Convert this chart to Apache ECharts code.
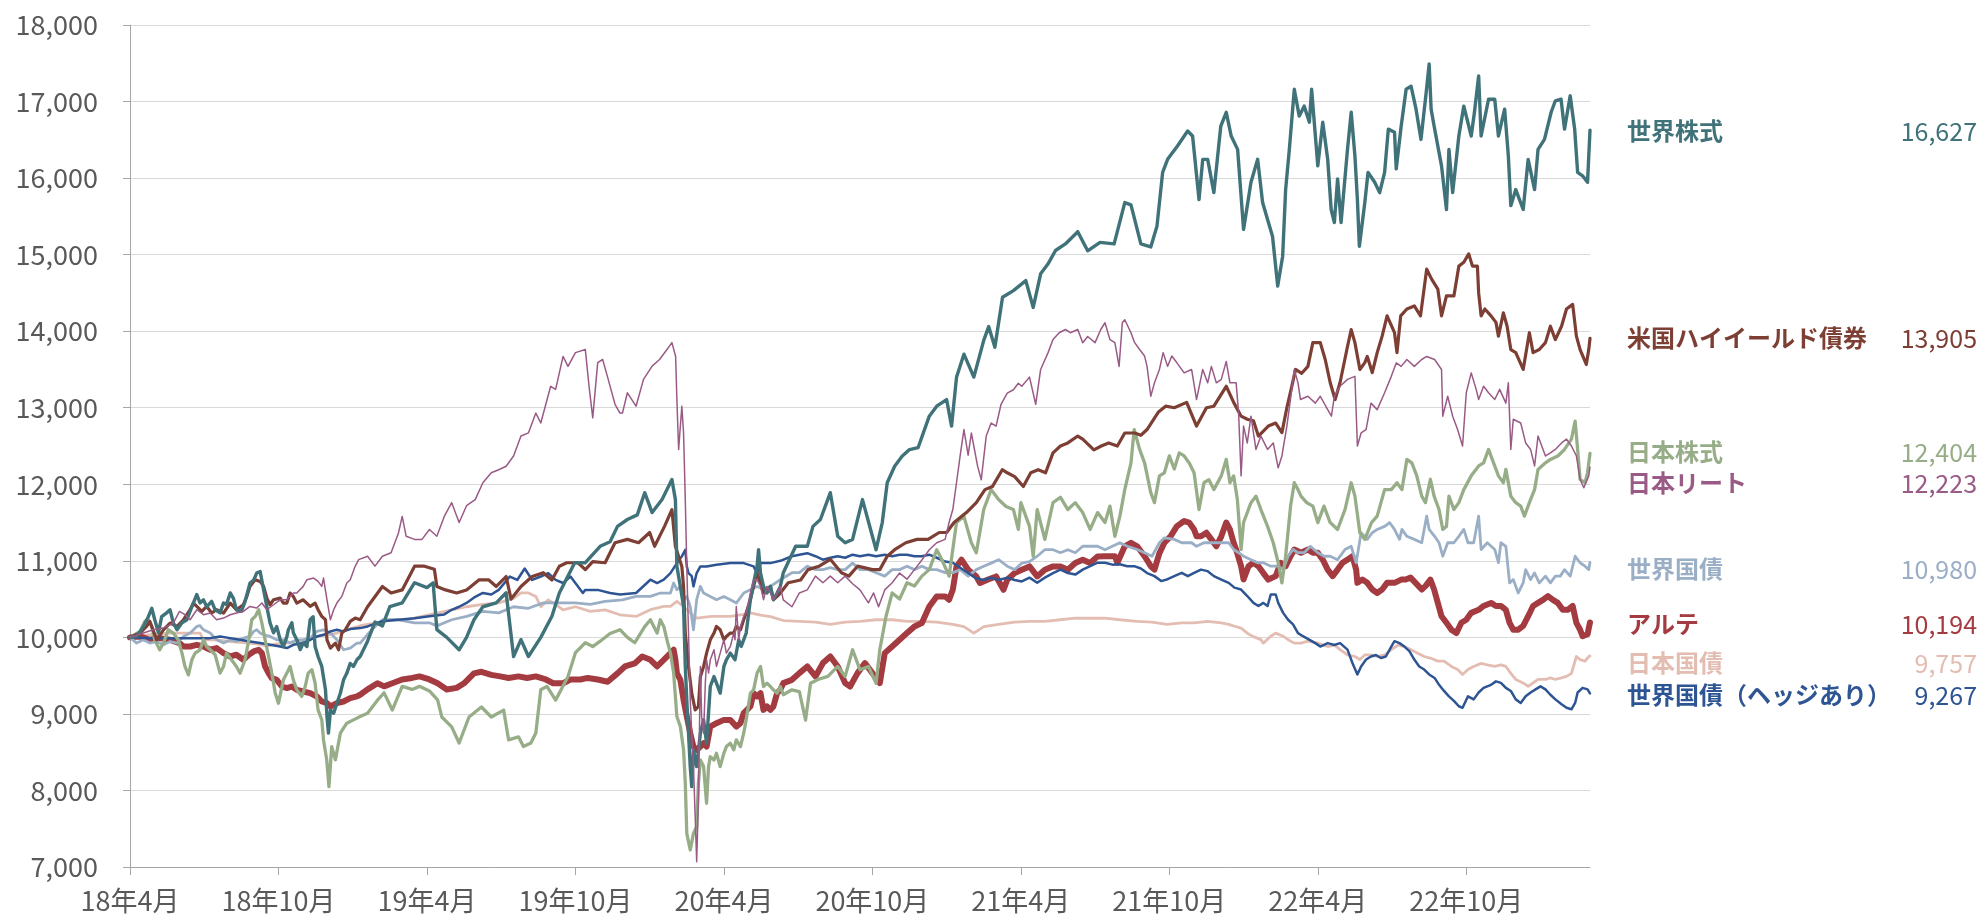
<!DOCTYPE html>
<html>
<head>
<meta charset="utf-8">
<script src="https://cdn.jsdelivr.net/npm/echarts@6/dist/echarts.min.js"></script>
<style>
html,body{margin:0;padding:0;background:#fff;}
#chart{width:1982px;height:917px;}
</style>
</head>
<body>
<div id="chart"></div>
<script>
// x = months since April 2018, y = index value (start 10,000)
const tickLabels = ['18年4月','18年10月','19年4月','19年10月','20年4月','20年10月','21年4月','21年10月','22年4月','22年10月'];
const tickMonths = [0,6,12,18,24,30,36,42,48,54];
const seriesNames = ['世界株式','米国ハイイールド債券','日本株式','日本リート','世界国債','アルテ','日本国債','世界国債（ヘッジあり）'];

const worldEquity = [[0,10000],[0.27,10010],[0.54,10140],[0.74,10270],[0.88,10380],[1.0,10230],[1.15,10060],[1.28,10270],[1.48,10320],[1.62,10360],[1.75,10190],[1.9,10100],[2.1,10190],[2.3,10230],[2.5,10400],[2.7,10560],[2.83,10450],[2.97,10490],[3.1,10400],[3.3,10470],[3.44,10360],[3.64,10320],[3.78,10450],[3.9,10430],[4.05,10580],[4.18,10510],[4.3,10360],[4.5,10340],[4.65,10470],[4.85,10710],[5.0,10750],[5.12,10840],[5.26,10860],[5.4,10620],[5.53,10400],[5.66,10190],[5.8,10060],[5.93,10140],[6.07,9970],[6.2,9880],[6.34,10010],[6.4,10100],[6.54,10190],[6.6,10060],[6.74,9970],[6.88,9840],[7.0,9925],[7.15,9880],[7.28,10230],[7.4,10270],[7.48,9880],[7.6,9750],[7.75,9620],[7.9,9315],[7.96,8966],[8.02,8750],[8.1,9050],[8.23,9010],[8.36,9140],[8.5,9270],[8.63,9445],[8.76,9530],[8.9,9660],[9.03,9620],[9.17,9707],[9.3,9750],[9.6,9950],[9.9,10200],[10.2,10150],[10.5,10400],[11.0,10450],[11.5,10714],[12.0,10650],[12.25,10714],[12.4,10100],[12.8,10000],[13.3,9838],[13.6,10000],[13.9,10230],[14.26,10400],[14.8,10450],[15.2,10583],[15.5,9750],[15.8,9970],[16.1,9750],[16.6,10000],[17.05,10275],[17.35,10580],[17.97,10975],[18.4,10975],[19.0,11190],[19.4,11250],[19.7,11450],[20.1,11540],[20.5,11600],[20.8,11890],[21.1,11630],[21.5,11800],[21.9,12061],[22.04,11799],[22.1,10927],[22.24,10666],[22.37,10404],[22.44,9620],[22.5,9184],[22.57,8748],[22.64,8312],[22.7,8050],[22.77,8530],[22.9,8312],[23.05,8748],[23.18,8922],[23.3,8617],[23.45,9358],[23.6,9489],[23.7,9402],[23.85,9271],[24.0,9620],[24.1,9707],[24.26,9794],[24.45,9707],[24.6,9968],[24.7,9881],[24.9,10056],[25.07,10492],[25.2,10710],[25.34,10927],[25.4,11145],[25.48,10840],[25.6,10666],[25.74,10579],[25.88,10666],[26.0,10492],[26.15,10579],[26.28,10666],[26.4,10845],[26.9,11190],[27.37,11190],[27.6,11450],[27.9,11540],[28.3,11890],[28.6,11320],[28.9,11236],[29.2,11280],[29.6,11800],[29.85,11500],[30.15,11145],[30.4,11500],[30.6,12020],[30.9,12235],[31.2,12365],[31.5,12453],[31.85,12480],[32.3,12890],[32.6,13020],[33.0,13107],[33.2,12760],[33.4,13397],[33.7,13700],[34.1,13400],[34.5,13880],[34.7,14060],[34.95,13790],[35.26,14444],[35.7,14530],[36.2,14660],[36.5,14310],[36.8,14750],[37.1,14880],[37.4,15054],[37.8,15140],[38.3,15300],[38.7,15050],[39.2,15160],[39.77,15140],[40.2,15680],[40.45,15650],[40.85,15140],[41.25,15100],[41.5,15370],[41.73,16075],[41.93,16245],[42.33,16420],[42.74,16615],[42.94,16550],[43.2,15720],[43.35,16245],[43.55,16245],[43.8,15810],[44.08,16680],[44.3,16860],[44.5,16550],[44.76,16375],[45.0,15330],[45.3,15945],[45.57,16245],[45.77,15680],[45.97,15460],[46.17,15240],[46.38,14590],[46.58,14980],[46.7,15850],[46.85,16375],[47.05,17160],[47.25,16810],[47.45,16940],[47.66,16730],[47.75,17160],[48.0,16160],[48.2,16730],[48.4,16245],[48.54,15590],[48.67,15420],[48.8,15990],[48.94,15420],[49.2,16375],[49.35,16860],[49.5,16290],[49.6,15720],[49.68,15110],[49.9,15680],[50.03,16075],[50.3,15945],[50.5,15810],[50.7,16075],[50.85,16640],[51.1,16600],[51.17,16120],[51.37,16680],[51.57,17160],[51.77,17200],[51.97,16900],[52.17,16505],[52.38,17120],[52.5,17490],[52.58,16900],[52.7,16680],[53.0,16160],[53.2,15590],[53.3,16375],[53.45,15810],[53.7,16550],[53.9,16940],[54.2,16550],[54.33,16860],[54.5,17335],[54.6,16550],[54.9,17030],[55.15,17030],[55.3,16550],[55.55,16900],[55.7,16290],[55.8,15640],[56.0,15850],[56.3,15590],[56.5,16245],[56.76,15850],[56.9,16375],[57.16,16505],[57.43,16860],[57.6,17010],[57.83,17030],[57.97,16640],[58.2,17075],[58.38,16640],[58.5,16075],[58.7,16030],[58.9,15945],[59,16627]];

const usHighYield = [[0,10000],[0.4,10056],[0.67,10143],[0.8,10209],[1.08,9968],[1.35,10099],[1.62,10187],[1.9,10143],[2.16,10230],[2.43,10361],[2.56,10448],[2.7,10404],[2.9,10339],[3.1,10404],[3.3,10318],[3.5,10361],[3.78,10318],[4.05,10448],[4.3,10361],[4.58,10426],[4.72,10535],[4.85,10666],[5.06,10753],[5.26,10731],[5.4,10666],[5.53,10513],[5.66,10426],[5.8,10491],[6.07,10513],[6.2,10448],[6.34,10448],[6.47,10579],[6.6,10535],[6.74,10448],[7.0,10491],[7.28,10404],[7.48,10448],[7.6,10361],[7.75,10274],[7.9,10230],[7.96,9968],[8.1,9860],[8.3,9925],[8.43,9838],[8.56,10056],[8.7,10099],[8.9,10209],[9.1,10252],[9.3,10230],[9.6,10400],[10.2,10665],[10.55,10580],[11.0,10620],[11.5,10930],[11.9,10930],[12.3,10890],[12.4,10665],[12.75,10620],[13.2,10580],[13.6,10620],[14.1,10750],[14.5,10750],[14.8,10665],[15.2,10795],[15.4,10500],[15.8,10665],[16.25,10795],[16.7,10845],[17.05,10750],[17.35,10930],[17.65,10975],[18.1,10975],[18.4,10885],[18.7,10990],[19.2,10975],[19.6,11236],[20.1,11280],[20.55,11236],[21.0,11370],[21.2,11190],[21.6,11450],[21.9,11669],[22.04,11189],[22.17,11058],[22.3,10927],[22.37,10666],[22.44,10056],[22.57,9620],[22.7,9271],[22.84,9053],[22.97,9097],[23.05,9489],[23.18,9620],[23.3,9794],[23.45,9968],[23.6,10056],[23.7,10143],[23.85,10099],[24.0,9968],[24.1,10012],[24.26,10056],[24.4,10056],[24.5,10143],[24.67,10099],[24.8,10230],[24.9,10318],[25.07,10492],[25.2,10666],[25.34,10840],[25.48,10710],[25.6,10579],[25.74,10622],[25.88,10666],[26.0,10492],[26.15,10535],[26.28,10579],[26.6,10714],[27.1,10750],[27.4,10885],[27.85,10930],[28.3,11020],[28.75,10845],[29.05,10800],[29.4,10930],[30.0,10885],[30.3,10885],[30.6,11060],[30.9,11145],[31.35,11236],[31.8,11280],[32.25,11280],[32.7,11370],[33.0,11370],[33.3,11500],[33.8,11630],[34.2,11760],[34.55,11930],[34.85,11970],[35.25,12190],[35.45,12150],[35.75,12100],[36.1,11970],[36.4,12150],[36.7,12190],[37.0,12150],[37.3,12410],[37.6,12500],[37.9,12540],[38.3,12630],[38.5,12590],[38.95,12450],[39.25,12500],[39.55,12540],[39.9,12500],[40.2,12670],[40.6,12670],[40.85,12640],[41.1,12715],[41.55,12940],[41.85,13020],[42.2,13000],[42.7,13070],[43.1,12760],[43.5,13000],[43.8,13020],[44.3,13280],[44.6,13070],[44.9,12890],[45.15,12850],[45.4,12830],[45.6,12630],[46.0,12760],[46.3,12800],[46.55,12675],[46.75,13000],[46.95,13280],[47.1,13500],[47.35,13450],[47.6,13540],[47.8,13850],[48.1,13850],[48.3,13630],[48.5,13330],[48.7,13107],[48.9,13330],[49.2,13800],[49.35,14020],[49.5,13850],[49.7,13500],[49.9,13590],[50.0,13670],[50.2,13460],[50.4,13720],[50.6,13935],[50.8,14200],[51.1,13980],[51.2,13720],[51.35,14200],[51.6,14290],[51.9,14330],[52.15,14200],[52.4,14810],[52.6,14680],[52.85,14550],[53.0,14200],[53.2,14460],[53.5,14460],[53.7,14850],[53.9,14900],[54.1,15010],[54.25,14850],[54.45,14850],[54.5,14500],[54.6,14200],[54.75,14290],[55.0,14200],[55.2,14115],[55.3,13935],[55.5,14240],[55.65,14065],[55.8,13760],[56.0,13720],[56.3,13500],[56.55,13980],[56.7,13720],[56.95,13760],[57.2,13850],[57.4,14065],[57.6,13890],[57.85,14065],[58.05,14290],[58.3,14350],[58.45,13935],[58.6,13760],[58.85,13565],[58.95,13760],[59,13905]];

const japanEquity = [[0,10000],[0.4,10078],[0.6,10209],[0.74,10230],[0.88,10143],[1.0,9968],[1.2,9838],[1.35,9925],[1.55,10099],[1.75,10056],[1.95,9968],[2.1,9794],[2.22,9620],[2.36,9510],[2.5,9707],[2.63,9794],[2.83,9838],[2.97,9968],[3.1,9881],[3.24,9838],[3.44,9773],[3.64,9533],[3.78,9620],[3.9,9794],[4.1,9707],[4.3,9620],[4.45,9533],[4.65,9707],[4.8,9968],[4.92,10230],[5.06,10274],[5.2,10361],[5.33,10187],[5.46,9968],[5.6,9750],[5.73,9533],[5.87,9271],[6.0,9140],[6.2,9445],[6.34,9533],[6.47,9620],[6.6,9445],[6.74,9315],[6.94,9228],[7.08,9358],[7.2,9533],[7.35,9577],[7.48,9402],[7.6,9053],[7.75,8922],[7.82,8660],[7.95,8400],[8.04,8050],[8.15,8573],[8.3,8400],[8.5,8748],[8.76,8879],[9.03,8922],[9.3,8966],[9.6,9010],[10.0,9180],[10.27,9275],[10.6,9050],[11.0,9360],[11.4,9320],[11.7,9360],[12.1,9300],[12.43,9184],[12.6,8960],[13.0,8830],[13.3,8620],[13.7,8960],[14.2,9090],[14.6,8960],[15.1,9050],[15.3,8660],[15.7,8700],[15.9,8573],[16.2,8620],[16.4,8750],[16.6,9315],[16.85,9360],[17.2,9180],[17.7,9490],[18.0,9800],[18.4,9930],[18.7,9880],[19.0,9950],[19.4,10050],[19.8,10100],[20.1,10000],[20.4,9930],[20.8,10140],[21.03,10230],[21.3,10056],[21.43,10230],[21.57,10143],[21.7,9968],[21.84,9794],[21.97,9533],[22.1,8966],[22.24,8835],[22.37,8530],[22.44,8094],[22.5,7440],[22.64,7222],[22.77,7440],[22.9,7527],[22.97,8094],[23.05,8399],[23.18,8312],[23.3,7833],[23.38,8312],[23.45,8442],[23.6,8399],[23.7,8486],[23.85,8312],[24.0,8486],[24.1,8573],[24.26,8617],[24.4,8530],[24.5,8661],[24.67,8573],[24.8,8748],[24.9,8922],[25.07,9271],[25.2,9315],[25.34,9533],[25.48,9620],[25.6,9358],[25.74,9402],[25.88,9358],[26.0,9315],[26.15,9271],[26.28,9358],[26.4,9250],[26.75,9315],[27.05,9290],[27.3,8920],[27.5,9400],[27.8,9450],[28.2,9490],[28.6,9620],[28.9,9490],[29.2,9838],[29.5,9576],[29.84,9620],[30.15,9400],[30.3,9838],[30.55,10273],[30.8,10580],[31.1,10500],[31.4,10714],[31.7,10670],[32.0,10800],[32.3,10885],[32.6,11145],[32.8,11020],[33.1,10800],[33.4,11500],[33.7,11580],[34.0,11236],[34.2,11106],[34.5,11670],[34.8,11930],[35.1,11800],[35.4,11710],[35.7,11670],[35.9,11410],[36.0,11760],[36.35,11450],[36.5,11060],[36.66,11670],[36.97,11280],[37.3,11760],[37.6,11830],[37.9,11670],[38.2,11760],[38.5,11630],[38.8,11410],[39.1,11630],[39.4,11500],[39.6,11715],[39.8,11320],[40.0,11580],[40.2,11930],[40.45,12280],[40.58,12715],[40.8,12455],[41.0,12280],[41.25,11890],[41.4,11760],[41.6,12110],[41.8,12150],[42.0,12370],[42.2,12200],[42.4,12410],[42.6,12370],[42.8,12280],[43.0,12150],[43.2,11670],[43.4,12020],[43.6,12060],[43.8,11930],[44.1,12110],[44.3,12325],[44.45,12020],[44.6,12110],[44.75,11800],[44.9,11148],[45.0,11500],[45.3,11760],[45.5,11845],[45.7,11670],[45.97,11450],[46.2,11236],[46.4,10975],[46.55,10712],[46.7,11060],[46.9,11715],[47.05,12020],[47.2,11930],[47.32,11845],[47.55,11760],[47.8,11715],[48.0,11500],[48.25,11715],[48.5,11500],[48.8,11410],[49.1,11670],[49.35,12020],[49.5,11845],[49.7,11367],[49.9,11280],[50.17,11500],[50.4,11584],[50.7,11930],[50.97,11930],[51.2,12020],[51.4,11930],[51.6,12325],[51.8,12280],[52.0,12110],[52.2,11845],[52.35,11760],[52.55,12065],[52.7,11845],[52.9,11670],[53.05,11410],[53.2,11450],[53.3,11845],[53.5,11670],[53.7,11760],[53.9,11930],[54.2,12110],[54.5,12240],[54.7,12280],[54.9,12455],[55.05,12325],[55.3,12110],[55.5,12020],[55.6,12194],[55.8,11845],[56.0,11760],[56.2,11715],[56.35,11584],[56.55,11760],[56.76,11930],[56.9,12194],[57.2,12280],[57.4,12325],[57.7,12370],[57.97,12455],[58.25,12590],[58.4,12825],[58.5,12455],[58.6,12065],[58.8,12020],[58.9,12150],[59,12404]];

const japanReit = [[0,10000],[0.54,10056],[0.94,10099],[1.35,10121],[1.75,10187],[2.0,10339],[2.22,10296],[2.43,10230],[2.7,10361],[2.97,10296],[3.24,10318],[3.5,10230],[3.78,10252],[4.05,10296],[4.3,10318],[4.58,10339],[4.85,10404],[5.12,10383],[5.33,10448],[5.53,10361],[5.8,10426],[6.07,10491],[6.34,10491],[6.6,10579],[6.74,10579],[7.0,10666],[7.15,10753],[7.42,10775],[7.6,10731],[7.75,10666],[7.82,10775],[7.96,10491],[8.1,10230],[8.23,10361],[8.36,10448],[8.56,10535],[8.76,10710],[8.9,10753],[9.1,10928],[9.24,11015],[9.6,11060],[9.9,10930],[10.2,11060],[10.55,11106],[10.85,11364],[11.0,11580],[11.16,11320],[11.5,11280],[11.8,11280],[12.1,11410],[12.4,11320],[12.7,11580],[13.0,11760],[13.3,11500],[13.6,11720],[13.95,11800],[14.26,12020],[14.6,12150],[14.9,12190],[15.2,12235],[15.5,12370],[15.8,12630],[16.1,12671],[16.4,12930],[16.6,12800],[17.0,13280],[17.2,13240],[17.5,13670],[17.7,13540],[18.0,13720],[18.4,13760],[18.55,13280],[18.7,12868],[18.9,13590],[19.1,13630],[19.3,13400],[19.6,13045],[19.8,12930],[19.9,12930],[20.1,13195],[20.45,13020],[20.75,13370],[21.1,13543],[21.4,13630],[21.7,13760],[21.9,13850],[22.05,13670],[22.1,13107],[22.17,12453],[22.24,12453],[22.3,13020],[22.37,12671],[22.44,11799],[22.5,10927],[22.57,10056],[22.64,9184],[22.7,8748],[22.77,8312],[22.84,7658],[22.9,7070],[22.97,7876],[23.05,9620],[23.1,8966],[23.18,8748],[23.25,9402],[23.3,9707],[23.38,9533],[23.45,9707],[23.6,9838],[23.7,9620],[23.85,9794],[24.0,9968],[24.1,9794],[24.26,9881],[24.4,10056],[24.45,9968],[24.5,10404],[24.6,9968],[24.67,10143],[24.8,10274],[24.9,10318],[25.07,10579],[25.2,10753],[25.34,10753],[25.48,10666],[25.6,10492],[25.74,10666],[25.88,10579],[26.0,10492],[26.28,10666],[26.4,10490],[26.75,10400],[27.05,10580],[27.37,10620],[27.7,10800],[28.0,10714],[28.3,10800],[28.6,10714],[28.9,10800],[29.2,10700],[29.5,10620],[29.84,10450],[30.05,10580],[30.25,10400],[30.5,10620],[30.8,10714],[31.1,10840],[31.4,10760],[31.7,10885],[32.0,11010],[32.3,11145],[32.6,11236],[32.94,11280],[33.1,11500],[33.25,11670],[33.4,12020],[33.55,12380],[33.7,12715],[33.87,12380],[34.0,12670],[34.25,12240],[34.4,12060],[34.6,12630],[34.8,12800],[35.0,12760],[35.2,13045],[35.45,13190],[35.7,13235],[35.9,13320],[36.04,13280],[36.35,13400],[36.6,13045],[36.8,13500],[37.1,13720],[37.3,13890],[37.55,13980],[37.8,14022],[38.0,13980],[38.3,14022],[38.5,13850],[38.7,13930],[39.0,13850],[39.23,14022],[39.4,14110],[39.6,13890],[39.8,13850],[39.97,13540],[40.1,14110],[40.2,14150],[40.45,13980],[40.6,13850],[40.8,13760],[41.0,13675],[41.1,13540],[41.25,13150],[41.4,13325],[41.6,13500],[41.75,13720],[41.93,13540],[42.1,13675],[42.3,13590],[42.6,13455],[42.9,13500],[43.1,13107],[43.35,13500],[43.55,13325],[43.7,13540],[43.9,13325],[44.1,13370],[44.3,13605],[44.45,13325],[44.7,13325],[44.8,12930],[44.9,12110],[45.0,12760],[45.15,12540],[45.3,12890],[45.5,12455],[45.7,12630],[45.97,12455],[46.2,12540],[46.4,12215],[46.55,12370],[46.75,12760],[46.95,13240],[47.05,13500],[47.2,13325],[47.3,13107],[47.6,13150],[47.9,13060],[48.1,13150],[48.4,12975],[48.55,12890],[48.67,13150],[48.9,13280],[49.2,13370],[49.5,13410],[49.6,12500],[49.75,12670],[49.95,12715],[50.15,13060],[50.4,12975],[50.7,13195],[50.97,13410],[51.17,13585],[51.37,13540],[51.6,13630],[51.9,13540],[52.2,13630],[52.4,13670],[52.72,13630],[53.0,13500],[53.05,12890],[53.25,13150],[53.45,12890],[53.65,12715],[53.85,12500],[54.0,13195],[54.2,13455],[54.4,13240],[54.5,13107],[54.7,13280],[54.9,13195],[55.15,13107],[55.35,13240],[55.6,13060],[55.7,13325],[55.8,12455],[55.9,12850],[56.2,12800],[56.4,12540],[56.6,12455],[56.76,12240],[56.9,12630],[57.2,12370],[57.4,12410],[57.6,12455],[57.85,12540],[58.05,12590],[58.25,12500],[58.45,12370],[58.6,12065],[58.75,11955],[58.95,12110],[59,12223]];

const worldBond = [[0,10000],[0.27,9925],[0.54,9968],[0.8,9925],[1.08,9946],[1.35,9903],[1.62,9946],[1.9,9925],[2.16,10012],[2.43,10056],[2.7,10143],[2.83,10152],[2.97,10099],[3.24,10056],[3.5,9968],[3.78,9925],[4.05,9968],[4.3,9946],[4.58,9990],[4.85,10012],[5.0,10078],[5.12,10099],[5.26,10056],[5.4,10034],[5.66,10012],[5.93,9968],[6.2,9968],[6.47,9925],[6.74,9968],[7.0,9968],[7.28,9990],[7.55,10078],[7.82,10099],[8.1,10056],[8.36,9968],[8.63,9838],[8.9,9860],[9.17,9925],[9.3,9925],[9.77,10100],[10.2,10230],[10.85,10230],[11.5,10190],[12.1,10190],[12.4,10150],[13.0,10230],[13.6,10275],[14.26,10340],[14.9,10320],[15.5,10400],[16.1,10380],[16.7,10450],[17.35,10450],[18.0,10450],[18.6,10430],[19.2,10470],[19.9,10490],[20.45,10535],[21.03,10535],[21.43,10579],[21.84,10579],[21.97,10710],[22.1,10622],[22.24,10666],[22.37,10492],[22.5,10535],[22.64,10404],[22.77,10099],[22.9,10492],[23.05,10666],[23.18,10579],[23.45,10535],[23.7,10492],[24.0,10535],[24.26,10492],[24.5,10448],[24.8,10579],[25.07,10622],[25.34,10666],[25.6,10622],[25.88,10666],[26.28,10753],[26.75,10845],[27.05,10845],[27.37,10930],[27.7,10885],[28.0,10885],[28.3,10910],[28.6,10885],[28.9,10885],[29.2,10970],[29.5,10885],[29.84,10885],[30.15,10845],[30.5,10800],[30.8,10885],[31.1,10885],[31.4,10930],[31.7,10885],[32.0,10930],[32.3,10885],[32.6,10885],[32.94,10845],[33.25,10845],[33.55,10885],[33.87,10800],[34.2,10885],[34.5,10930],[34.8,10970],[35.1,11015],[35.45,10930],[35.75,10885],[36.04,10970],[36.35,10990],[36.66,11060],[36.97,11145],[37.3,11145],[37.6,11106],[37.9,11145],[38.2,11106],[38.5,11190],[38.8,11190],[39.1,11190],[39.4,11145],[39.7,11190],[40.0,11236],[40.3,11190],[40.7,11148],[41.0,11106],[41.3,11060],[41.6,11236],[41.8,11300],[42.2,11280],[42.5,11236],[42.9,11236],[43.1,11190],[43.4,11236],[43.97,11236],[44.4,11236],[44.6,11148],[44.8,11106],[45.0,11060],[45.3,11015],[45.57,10975],[45.8,10975],[46.1,10930],[46.4,10930],[46.6,10885],[46.8,11060],[47.0,11148],[47.2,11106],[47.45,11106],[47.7,11190],[48.0,11106],[48.25,11060],[48.5,11060],[48.8,11015],[49.1,11148],[49.35,11190],[49.55,10975],[49.75,11367],[50.0,11280],[50.2,11367],[50.4,11410],[50.7,11450],[50.9,11500],[51.1,11410],[51.3,11280],[51.4,11410],[51.6,11320],[51.9,11280],[52.2,11236],[52.4,11584],[52.5,11410],[52.72,11320],[52.9,11236],[53.05,11060],[53.25,11236],[53.5,11236],[53.7,11320],[53.9,11410],[54.07,11236],[54.3,11236],[54.5,11584],[54.6,11148],[54.85,11236],[55.15,11148],[55.3,10975],[55.4,11236],[55.6,11190],[55.75,10712],[55.9,10755],[56.1,10580],[56.3,10712],[56.4,10885],[56.6,10755],[56.76,10840],[56.95,10712],[57.2,10800],[57.4,10712],[57.6,10800],[57.8,10800],[57.97,10885],[58.2,10800],[58.4,11060],[58.6,10975],[58.8,10930],[58.95,10885],[59,10980]];

const alte = [[0,10000],[0.4,10012],[0.8,9968],[1.2,9990],[1.62,9968],[2.0,9925],[2.16,9881],[2.43,9881],[2.7,9903],[2.97,9881],[3.24,9838],[3.5,9860],[3.78,9794],[4.05,9750],[4.3,9773],[4.58,9707],[4.8,9773],[5.0,9816],[5.2,9838],[5.33,9794],[5.46,9620],[5.6,9533],[5.73,9468],[5.93,9445],[6.14,9358],[6.34,9337],[6.54,9358],[6.74,9315],[7.0,9293],[7.28,9271],[7.55,9228],[7.75,9162],[7.96,9140],[8.1,9097],[8.36,9140],[8.63,9162],[8.9,9206],[9.17,9228],[9.3,9250],[9.6,9320],[10.0,9400],[10.27,9360],[10.6,9400],[11.0,9450],[11.4,9470],[11.7,9490],[12.1,9450],[12.43,9400],[12.8,9320],[13.2,9340],[13.5,9400],[13.9,9530],[14.2,9550],[14.6,9510],[14.96,9490],[15.3,9470],[15.7,9490],[16.05,9470],[16.4,9490],[16.8,9450],[17.1,9400],[17.5,9400],[17.8,9450],[18.2,9450],[18.5,9470],[18.9,9450],[19.3,9420],[19.7,9530],[20.0,9620],[20.4,9660],[20.7,9750],[21.03,9707],[21.3,9620],[21.57,9707],[21.84,9794],[21.97,9838],[22.04,9707],[22.1,9533],[22.24,9445],[22.37,9184],[22.5,8966],[22.64,8748],[22.77,8573],[22.9,8530],[23.05,8573],[23.18,8617],[23.3,8573],[23.45,8835],[23.7,8879],[24.0,8922],[24.26,8922],[24.5,8835],[24.67,8879],[24.8,9010],[25.07,9097],[25.2,9271],[25.34,9228],[25.48,9271],[25.6,9053],[25.74,9097],[25.88,9053],[26.0,9097],[26.15,9271],[26.28,9315],[26.4,9402],[26.75,9445],[27.05,9533],[27.37,9620],[27.7,9489],[28.0,9664],[28.3,9750],[28.6,9620],[28.9,9402],[29.1,9358],[29.4,9533],[29.7,9664],[30.0,9533],[30.3,9402],[30.5,9794],[30.8,9881],[31.1,9968],[31.4,10056],[31.7,10143],[32.0,10187],[32.3,10404],[32.6,10535],[32.94,10535],[33.1,10492],[33.25,10622],[33.4,10927],[33.6,11015],[33.87,10884],[34.2,10796],[34.35,10710],[34.65,10753],[35.0,10796],[35.3,10622],[35.45,10753],[35.75,10840],[36.04,10884],[36.35,10927],[36.66,10796],[36.97,10884],[37.3,10927],[37.6,10927],[37.9,10884],[38.2,10971],[38.5,11015],[38.8,10971],[39.1,11058],[39.4,11060],[39.8,11060],[39.9,10975],[40.2,11190],[40.45,11236],[40.7,11190],[41.0,11060],[41.25,10930],[41.4,10885],[41.6,11100],[41.8,11236],[42.05,11320],[42.3,11450],[42.6,11520],[42.8,11500],[43.0,11410],[43.1,11320],[43.28,11320],[43.5,11367],[43.7,11280],[43.9,11190],[44.1,11320],[44.3,11500],[44.45,11410],[44.6,11236],[44.7,11148],[44.9,10930],[45.0,10755],[45.2,10930],[45.4,10975],[45.6,10930],[45.8,10840],[46.0,10755],[46.3,10800],[46.5,10975],[46.7,10930],[46.9,11060],[47.05,11148],[47.32,11106],[47.6,11148],[47.8,11106],[48.0,11106],[48.2,11015],[48.4,10885],[48.6,10800],[48.8,10885],[49.0,10975],[49.2,11015],[49.4,11060],[49.55,10885],[49.6,10712],[49.8,10755],[50.0,10712],[50.2,10625],[50.4,10580],[50.6,10625],[50.8,10712],[51.1,10712],[51.37,10755],[51.55,10755],[51.75,10780],[51.95,10712],[52.2,10625],[52.35,10670],[52.55,10755],[52.7,10625],[52.85,10450],[53.0,10276],[53.2,10190],[53.4,10100],[53.6,10055],[53.8,10190],[54.0,10230],[54.2,10320],[54.5,10360],[54.7,10410],[55.0,10450],[55.2,10410],[55.4,10410],[55.6,10360],[55.75,10190],[55.9,10100],[56.1,10100],[56.3,10150],[56.5,10276],[56.7,10410],[56.9,10450],[57.1,10490],[57.3,10540],[57.5,10490],[57.7,10450],[57.9,10360],[58.1,10360],[58.3,10410],[58.45,10190],[58.6,10100],[58.7,10015],[58.9,10040],[58.97,10150],[59,10194]];

const japanBond = [[0,10000],[0.8,10034],[1.62,10056],[2.43,10056],[2.83,10056],[2.97,9968],[3.5,9968],[4.05,9946],[4.58,9933],[5.12,9916],[5.53,9890],[5.93,9916],[6.34,9925],[6.74,9946],[7.15,9977],[7.55,10012],[7.96,10034],[8.36,10056],[8.76,10099],[9.3,10152],[9.9,10186],[10.55,10230],[11.16,10230],[11.8,10275],[12.4,10317],[13.0,10360],[13.6,10400],[14.26,10430],[14.9,10450],[15.5,10510],[15.8,10580],[16.1,10580],[16.4,10535],[16.6,10400],[16.9,10490],[17.2,10430],[17.5,10360],[18.0,10400],[18.6,10340],[19.2,10360],[19.8,10295],[20.45,10273],[21.03,10361],[21.57,10404],[21.84,10404],[22.1,10470],[22.37,10404],[22.64,10318],[22.9,10252],[23.5,10274],[24.26,10274],[24.8,10300],[25.07,10320],[25.48,10290],[25.88,10270],[26.4,10220],[27.05,10210],[27.7,10200],[28.3,10170],[28.9,10200],[29.5,10210],[30.15,10230],[30.8,10230],[31.4,10210],[32.0,10210],[32.6,10200],[33.25,10170],[33.7,10140],[34.1,10055],[34.5,10140],[35.1,10170],[35.75,10200],[36.35,10210],[36.97,10210],[37.6,10230],[38.2,10250],[38.8,10250],[39.4,10250],[40.0,10230],[40.7,10210],[41.3,10200],[41.9,10170],[42.5,10190],[43.0,10190],[43.55,10210],[44.1,10190],[44.4,10170],[44.63,10145],[44.9,10120],[45.15,10055],[45.4,10010],[45.7,9970],[45.8,9925],[46.1,10015],[46.3,10055],[46.6,10015],[46.8,9970],[47.05,9925],[47.32,9925],[47.6,9950],[48.0,9925],[48.4,9880],[48.67,9900],[48.9,9840],[49.2,9770],[49.5,9750],[49.7,9710],[49.9,9770],[50.15,9770],[50.4,9750],[50.7,9770],[50.97,9840],[51.25,9900],[51.5,9880],[51.75,9840],[52.0,9800],[52.3,9750],[52.55,9730],[52.85,9690],[53.1,9690],[53.4,9620],[53.65,9580],[53.85,9515],[54.07,9580],[54.3,9620],[54.6,9660],[54.85,9640],[55.15,9620],[55.4,9640],[55.6,9620],[55.8,9530],[56.0,9450],[56.3,9405],[56.5,9360],[56.7,9405],[56.9,9450],[57.2,9450],[57.4,9470],[57.6,9450],[57.85,9470],[58.05,9490],[58.25,9530],[58.45,9750],[58.6,9710],[58.8,9690],[58.95,9750],[59,9757]];

const worldBondHedged = [[0,10000],[0.8,9990],[1.62,9990],[2.43,9990],[3.24,9990],[3.64,10012],[4.05,9990],[4.45,9968],[4.85,9946],[5.26,9925],[5.66,9903],[6.07,9881],[6.34,9860],[6.6,9903],[7.0,9925],[7.28,9968],[7.55,10012],[7.82,10034],[8.1,10078],[8.36,10099],[8.63,10078],[8.9,10108],[9.3,10121],[9.6,10143],[10.2,10210],[10.85,10230],[11.5,10250],[12.1,10275],[12.7,10300],[13.0,10360],[13.3,10400],[13.6,10450],[13.95,10530],[14.26,10580],[14.6,10560],[14.9,10620],[15.35,10795],[15.65,10750],[15.95,10900],[16.25,10750],[16.6,10795],[16.9,10840],[17.2,10750],[17.5,10710],[17.8,10795],[18.3,10580],[18.4,10620],[18.9,10620],[19.4,10580],[19.8,10560],[20.45,10580],[21.03,10753],[21.3,10710],[21.57,10753],[21.84,10840],[22.1,10970],[22.3,11058],[22.44,11145],[22.5,10927],[22.57,10840],[22.7,10800],[22.77,10666],[22.9,10840],[23.05,10927],[23.3,10927],[23.7,10950],[24.26,10970],[24.8,10970],[25.2,10927],[25.34,10840],[25.48,10970],[25.88,10970],[26.28,11000],[26.75,11060],[27.05,11080],[27.37,11100],[27.7,11060],[28.0,11015],[28.3,11040],[28.6,11060],[28.9,11040],[29.2,11080],[29.5,11060],[29.84,11080],[30.15,11060],[30.5,11080],[30.8,11060],[31.1,11080],[31.4,11080],[31.7,11060],[32.0,11060],[32.3,11080],[32.6,11040],[32.94,10990],[33.25,10975],[33.55,10910],[33.87,10840],[34.2,10770],[34.5,10750],[34.8,10780],[35.1,10750],[35.45,10780],[35.75,10750],[36.04,10730],[36.35,10780],[36.66,10714],[36.97,10780],[37.3,10840],[37.6,10885],[37.9,10840],[38.2,10820],[38.5,10885],[38.8,10930],[39.1,10975],[39.4,10975],[39.7,10950],[40.0,10955],[40.3,10930],[40.58,10930],[40.85,10900],[41.1,10840],[41.4,10800],[41.67,10735],[41.93,10760],[42.2,10800],[42.5,10843],[42.75,10800],[43.0,10843],[43.28,10885],[43.55,10865],[43.8,10800],[44.1,10755],[44.4,10712],[44.63,10650],[44.9,10625],[45.15,10540],[45.4,10450],[45.6,10410],[45.8,10450],[45.97,10410],[46.1,10560],[46.3,10560],[46.4,10450],[46.6,10320],[46.8,10230],[47.0,10170],[47.2,10055],[47.4,10015],[47.65,9970],[47.9,9925],[48.1,9880],[48.4,9925],[48.67,9900],[48.9,9925],[49.2,9840],[49.4,9665],[49.6,9515],[49.75,9620],[49.95,9710],[50.15,9750],[50.35,9770],[50.55,9730],[50.75,9750],[50.97,9880],[51.1,9950],[51.3,9925],[51.5,9880],[51.7,9820],[51.9,9710],[52.1,9620],[52.3,9580],[52.5,9515],[52.72,9470],[52.9,9380],[53.1,9300],[53.3,9230],[53.5,9170],[53.7,9100],[53.85,9080],[54.07,9230],[54.3,9190],[54.5,9280],[54.7,9340],[55.0,9380],[55.2,9425],[55.4,9405],[55.6,9340],[55.8,9300],[56.0,9190],[56.2,9143],[56.4,9230],[56.6,9280],[56.8,9320],[57.0,9360],[57.2,9320],[57.4,9250],[57.6,9190],[57.85,9125],[58.05,9080],[58.25,9060],[58.4,9143],[58.5,9280],[58.7,9340],[58.9,9320],[59,9267]];

// ---- styles (kept apart from the data) ----
const FONT = '"Noto Sans CJK JP", "Noto Sans", sans-serif';
const seriesData = [worldEquity, usHighYield, japanEquity, japanReit, worldBond, alte, japanBond, worldBondHedged];
const seriesStyle = [
  {color:'#40727A', width:3.4, z:7},
  {color:'#7D3E34', width:3.2, z:6},
  {color:'#97AD88', width:3.3, z:5},
  {color:'#9A5A86', width:1.5, z:8},
  {color:'#9AAFC6', width:2.8, z:3},
  {color:'#A43B41', width:6,   z:2},
  {color:'#E3BDB1', width:2.8, z:1},
  {color:'#2E5593', width:2.5, z:4}
];
const labelY = [131, 338, 452, 483, 569, 624, 663, 695];

const chart = echarts.init(document.getElementById('chart'), null, {renderer:'canvas'});

const series = seriesData.map((d, i) => ({
  name: seriesNames[i],
  type: 'line',
  data: d,
  showSymbol: false,
  symbol: 'none',
  z: seriesStyle[i].z,
  lineStyle: {color: seriesStyle[i].color, width: seriesStyle[i].width, join: 'round', cap: 'round'},
  itemStyle: {color: seriesStyle[i].color},
  animation: false,
  clip: true
}));

const fmt = v => Math.round(v).toLocaleString('en-US');
const graphics = [];
seriesData.forEach((d, i) => {
  graphics.push({
    type: 'text', x: 1627, y: labelY[i], silent: true,
    style: {text: seriesNames[i], fill: seriesStyle[i].color, font: 'bold 24px ' + FONT, textAlign: 'left', textVerticalAlign: 'middle', align: 'left', verticalAlign: 'middle'}
  });
  graphics.push({
    type: 'text', x: 1977, y: labelY[i], silent: true,
    style: {text: fmt(d[d.length - 1][1]), fill: seriesStyle[i].color, font: '25px ' + FONT, textAlign: 'right', textVerticalAlign: 'middle', align: 'right', verticalAlign: 'middle'}
  });
});

chart.setOption({
  animation: false,
  backgroundColor: '#ffffff',
  textStyle: {fontFamily: FONT},
  grid: {left: 130, right: 392, top: 25, bottom: 50, containLabel: false},
  xAxis: {
    type: 'value', min: 0, max: 59,
    axisLine: {show: true, onZero: false, lineStyle: {color: '#A6A6A6', width: 1}},
    axisTick: {show: true, customValues: tickMonths, length: 8, lineStyle: {color: '#A6A6A6'}},
    axisLabel: {customValues: tickMonths, margin: 20, fontSize: 27, color: '#595959', fontFamily: FONT,
      formatter: v => tickLabels[tickMonths.indexOf(Math.round(v))] || ''},
    splitLine: {show: false}
  },
  yAxis: {
    type: 'value', min: 7000, max: 18000, interval: 1000,
    axisLine: {show: true, lineStyle: {color: '#A6A6A6', width: 1}},
    axisTick: {show: true, length: 7, lineStyle: {color: '#A6A6A6'}},
    axisLabel: {margin: 32, fontSize: 27, color: '#595959', fontFamily: FONT, formatter: v => fmt(v)},
    splitLine: {show: true, lineStyle: {color: '#D9D9D9', width: 1}}
  },
  series: series,
  graphic: graphics
});
</script>
</body>
</html>
